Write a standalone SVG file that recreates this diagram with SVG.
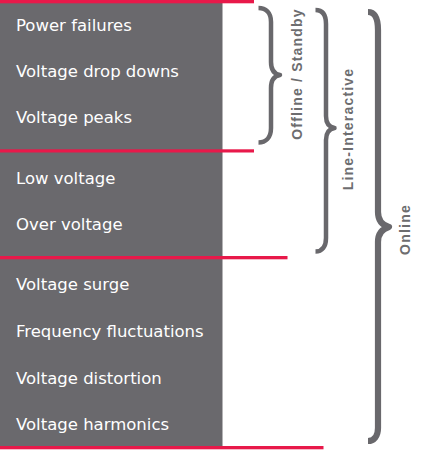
<svg xmlns="http://www.w3.org/2000/svg" width="424" height="450" viewBox="0 0 424 450">
  <style>
    .item { font-family: "DejaVu Sans", Verdana, sans-serif; font-size: 16.5px; fill: #ffffff; }
    .lbl { font-family: "Liberation Sans", Arial, sans-serif; font-size: 14px; font-weight: bold; fill: #6d6d6f; letter-spacing: 1.2px; text-anchor: middle; }
    .sep { fill: #e8194a; }
    .brace { fill: none; stroke: #69686c; stroke-linecap: butt; stroke-linejoin: round; }
  </style>
  <rect id="panel" x="0" y="0" width="222.5" height="447" fill="#6a696d"/>

  <g id="group-offline">
    <text class="item" x="16" y="30.5">Power failures</text>
    <text class="item" x="16" y="77">Voltage drop downs</text>
    <text class="item" x="16" y="123.3">Voltage peaks</text>
  </g>
  <g id="group-lineinteractive">
    <text class="item" x="16" y="184.3">Low voltage</text>
    <text class="item" x="16" y="230.3">Over voltage</text>
  </g>
  <g id="group-online">
    <text class="item" x="16" y="290">Voltage surge</text>
    <text class="item" x="16" y="337">Frequency fluctuations</text>
    <text class="item" x="16" y="384">Voltage distortion</text>
    <text class="item" x="16" y="430">Voltage harmonics</text>
  </g>

  <g id="separators">
    <rect class="sep" x="0" y="0" width="254" height="3.3"/>
    <rect class="sep" x="0" y="149.3" width="254" height="3.2"/>
    <rect class="sep" x="0" y="256" width="287.5" height="3.3"/>
    <rect class="sep" x="0" y="446" width="323.5" height="3.3"/>
  </g>

  <g id="connectors">
    <path class="brace" stroke-width="4.5" d="M258.5,8 C265.5,8 271,12 271,22 L271,62 C271,70 274,74 280,75 C274,76 271,80 271,88 L271,128 C271,138 265.5,142.5 258.5,142.5"/>
    <path class="brace" stroke-width="4.5" d="M315.5,10 C322,10 326,14 326,24 L326,116 C326,123 329,127 334.5,128 C329,129 326,133 326,140 L326,238 C326,247 322,251.5 315.5,251.5"/>
    <path class="brace" stroke-width="6.2" d="M368,12 C375,12 378,18 378,30 L378,212 C378,220 382,225 389,227 C382,229 378,234 378,242 L378,428 C378,436 374,441 368,441"/>
  </g>

  <g id="label-offline">
    <text class="lbl" transform="translate(302,74) rotate(-90)">Offline / Standby</text>
  </g>
  <g id="label-lineinteractive">
    <text class="lbl" transform="translate(353,129) rotate(-90)">Line-Interactive</text>
  </g>
  <g id="label-online">
    <text class="lbl" transform="translate(409.5,229.5) rotate(-90)">Online</text>
  </g>
</svg>
